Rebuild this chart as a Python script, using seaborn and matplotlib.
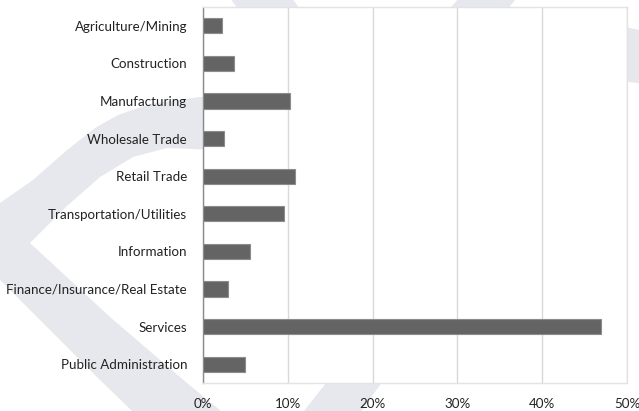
import matplotlib
matplotlib.use("Agg")
import matplotlib.pyplot as plt
from matplotlib.patches import Polygon
from matplotlib.ticker import FuncFormatter, FixedLocator
import seaborn as sns
import pandas as pd

# Employment share by industry sector (percent)
industries = [
    "Agriculture/Mining",
    "Construction",
    "Manufacturing",
    "Wholesale Trade",
    "Retail Trade",
    "Transportation/Utilities",
    "Information",
    "Finance/Insurance/Real Estate",
    "Services",
    "Public Administration",
]
share_pct = [2.2, 3.7, 10.3, 2.5, 10.8, 9.5, 5.6, 3.0, 46.9, 5.0]
x_ticks = [0, 10, 20, 30, 40, 50]

df = pd.DataFrame({"industry": industries, "share": share_pct})

sns.set_style("white")
plt.rcParams["font.family"] = ["Lato", "DejaVu Sans"]

W, H = 639, 411
fig = plt.figure(figsize=(W / 100, H / 100), dpi=100)
fig.patch.set_facecolor("white")


def fig_xy(points):
    return [(x / W, 1 - y / H) for x, y in points]


# Light background chevron artwork behind the chart
wm_color = "#e7e8ed"
shapes = [
    [(215, 96), (200, 97), (150, 104), (118, 115), (95, 128), (67, 150),
     (33, 180), (0, 203), (-5, 203), (-5, 279), (0, 280), (100, 380),
     (133, 412), (222, 416), (220, 410), (187, 383), (110, 317),
     (30, 243), (67, 206), (100, 177), (133, 157), (167, 148), (215, 150)],
    [(230, -2), (292, -2), (302, 12), (240, 12)],
    [(459, -2), (517, -2), (505, 12), (447, 12)],
    [(620, 26), (645, 31), (645, 84), (620, 81)],
    [(300, 416), (358, 416), (385, 378), (330, 378)],
]
for pts in shapes:
    fig.add_artist(Polygon(fig_xy(pts), closed=True, transform=fig.transFigure,
                           facecolor=wm_color, edgecolor="none", zorder=-5))

ax = fig.add_axes([203 / W, 1 - 383 / H, (627 - 203) / W, (383 - 7) / H])
ax.set_facecolor("white")
ax.set_zorder(1)

sns.barplot(data=df, x="share", y="industry", orient="h", ax=ax,
            color="#646464", saturation=1, width=0.4,
            edgecolor="#8c8c8c", linewidth=0.8, zorder=3)

ax.set_xlim(0, 50)
ax.set_ylim(len(industries) - 0.5, -0.5)
ax.xaxis.set_major_locator(FixedLocator(x_ticks))
ax.xaxis.set_major_formatter(FuncFormatter(lambda v, _: f"{v:.0f}%"))
ax.grid(axis="x", color="#d9d9d9", linewidth=1.0, zorder=0)
ax.set_axisbelow(True)
ax.set_xlabel("")
ax.set_ylabel("")

for side in ("top", "right", "bottom"):
    ax.spines[side].set_color("#e3e3e3")
    ax.spines[side].set_linewidth(1.0)
ax.spines["left"].set_color("#8a8a8a")
ax.spines["left"].set_linewidth(1.0)

# Category separators on the vertical axis
bounds = [i - 0.5 for i in range(len(industries) + 1)]
ax.set_yticks(bounds, minor=True)
ax.tick_params(axis="y", which="minor", length=6, width=1.0,
               color="#8a8a8a", direction="inout")
ax.tick_params(axis="y", which="major", length=2, width=0.8,
               color="#bdbdbd", pad=9.5, labelsize=9.6, labelcolor="#222222")
ax.tick_params(axis="x", which="major", length=0, pad=11,
               labelsize=9.6, labelcolor="#222222")

fig.savefig("out.png", dpi=100)
